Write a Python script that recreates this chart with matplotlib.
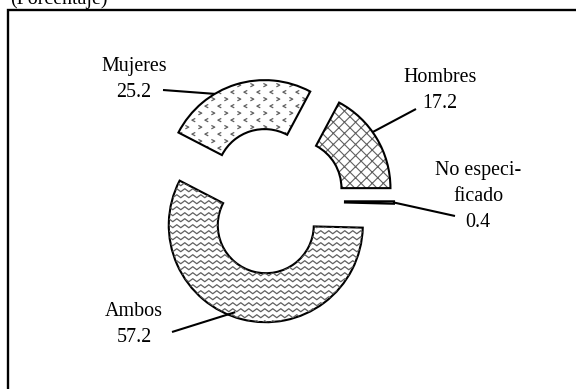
import numpy as np
import matplotlib
matplotlib.use("Agg")
import matplotlib.pyplot as plt
from matplotlib.collections import LineCollection
from matplotlib.patches import Rectangle
from matplotlib.path import Path

# datos (porcentaje)
categorias = ["Hombres", "Mujeres", "Ambos", "No especificado"]
porcentajes = [17.2, 25.2, 57.2, 0.4]
etiquetas = ["Hombres\n17.2", "Mujeres\n25.2", "Ambos\n57.2", "No especi-\nficado\n0.4"]

W, H = 576, 389
plt.rcParams['font.family'] = ['Liberation Serif', 'DejaVu Serif']
plt.rcParams['hatch.linewidth'] = 0.8

fig = plt.figure(figsize=(W / 100, H / 100), dpi=100)
ax = fig.add_axes([0, 0, 1, 1])

# geometria de la dona en pixeles (y hacia arriba)
R = 97
ancho = 49
centro = (272, H - 201)
sep = 25
gris = '#606060'

kw = dict(radius=R, center=centro, startangle=0, counterclock=True,
          explode=[sep] * len(porcentajes), frame=True)
fondo, _ = ax.pie(porcentajes, colors=['white'] * 4, hatch=['xxx', '', '', ''],
                  wedgeprops=dict(width=ancho, linewidth=0, edgecolor=gris), **kw)

# ondas para "Ambos"
w = fondo[2]
x0, y0 = w.center
xs = np.arange(x0 - R - 8, x0 + R + 8, 4)
pico = np.where(np.arange(len(xs)) % 2 == 0, 1.5, -1.5)
segs = [np.column_stack([xs, yy + pico]) for yy in np.arange(y0 - R - 6, y0 + R + 6, 6)]
ondas = LineCollection(segs, colors=gris, linewidths=0.9)
ax.add_collection(ondas)
ondas.set_clip_path(w)

# chevrones para "Mujeres"
w = fondo[1]
x0, y0 = w.center
gx, gy = np.meshgrid(np.arange(x0 - R, x0 + R, 13.0), np.arange(y0 - R, y0 + R, 7.0))
fila = (np.arange(gy.shape[0]) % 2)[:, None] * np.ones_like(gx)
gx = gx + 6.5 * fila
izq = Path([(1, 1), (-1, 0), (1, -1)])
der = Path([(-1, 1), (1, 0), (-1, -1)])
for marca, m in [(izq, fila == 0), (der, fila == 1)]:
    sc = ax.scatter(gx[m], gy[m], s=6, marker=marca, facecolors='none',
                    edgecolors=gris, linewidths=0.9)
    sc.set_clip_path(w)

bordes, _ = ax.pie(porcentajes, wedgeprops=dict(width=ancho, facecolor='none',
                                                edgecolor='black', linewidth=1.5), **kw)

# etiquetas y lineas guia (pixeles, y hacia abajo)
pos_etiqueta = [(440, 90), (134, 79), (134, 324), (478, 196)]
inicio_linea = [(416, 109), (163, 90), (172, 332), (455, 216)]
frac_angulo = [0.57, 0.65, 0.476, 0.5]
frac_radio = [1.0, 1.0, 0.95, 1.0]

for i, w in enumerate(bordes):
    ang = np.radians(w.theta1 + frac_angulo[i] * (w.theta2 - w.theta1))
    r = w.r * frac_radio[i]
    xe = w.center[0] + r * np.cos(ang)
    ye = w.center[1] + r * np.sin(ang)
    xi, yi = inicio_linea[i]
    ax.plot([xi, xe], [H - yi, ye], color='black', lw=1.5, solid_capstyle='butt')
    xt, yt = pos_etiqueta[i]
    ax.text(xt, H - yt, etiquetas[i], ha='center', va='center', multialignment='center',
            fontsize=14.4, linespacing=1.5)

ax.add_patch(Rectangle((7.5, -30), 700, H - 10 + 30, fill=False, lw=1.7, edgecolor='black'))
ax.text(10, H - 4, "(Porcentaje)", ha='left', va='baseline', fontsize=14.4)

ax.set_xlim(0, W)
ax.set_ylim(0, H)
ax.set_aspect('auto')
ax.axis('off')

fig.savefig("out.png", dpi=100)
